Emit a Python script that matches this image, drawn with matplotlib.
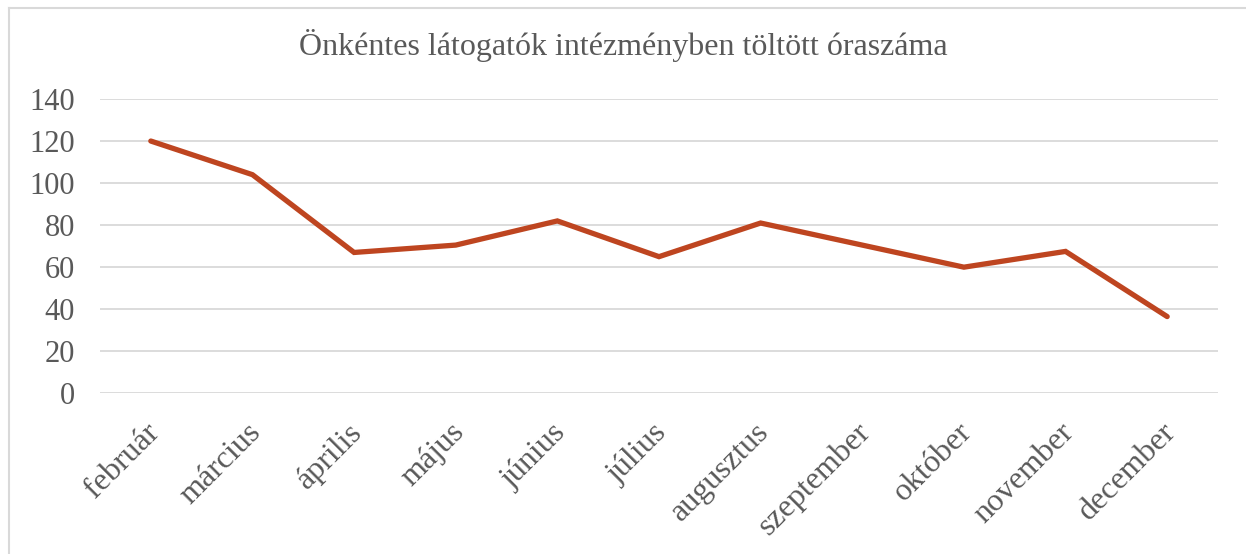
import matplotlib
matplotlib.use('Agg')
import matplotlib.pyplot as plt
from matplotlib.lines import Line2D
from matplotlib.transforms import ScaledTranslation

months = ['február', 'március', 'április', 'május', 'június', 'július',
          'augusztus', 'szeptember', 'október', 'november', 'december']
hours = [120, 104, 67, 70.5, 82, 65, 81, 70.5, 60, 67.5, 36.5]

plt.rcParams['font.family'] = ['Liberation Serif', 'DejaVu Serif']
text_color = '#595959'
grid_color = '#D9D9D9'

fig = plt.figure(figsize=(12.46, 5.54), dpi=100)
ax = fig.add_axes([100 / 1246, 1 - 393.3 / 554, 1118 / 1246, 294.3 / 554])

# chart frame: only left and top edges are visible in the crop
bx, by = 8.5 / 1246, 1 - 7.5 / 554
fig.add_artist(Line2D([bx, bx], [0, by], transform=fig.transFigure, color=grid_color, lw=1.5))
fig.add_artist(Line2D([bx, 1], [by, by], transform=fig.transFigure, color=grid_color, lw=1.5))

x = list(range(len(months)))
ax.plot(x, hours, color='#BE4520', lw=3.8, solid_capstyle='round', solid_joinstyle='miter')

ax.set_xlim(-0.5, len(months) - 0.5)
ax.set_ylim(0, 140)
ax.set_yticks(range(0, 141, 20))
ax.yaxis.grid(True, color=grid_color, lw=1.3)
ax.set_axisbelow(True)
for s in ax.spines.values():
    s.set_visible(False)
ax.tick_params(length=0)
ax.tick_params(axis='y', pad=18, labelsize=22, labelcolor=text_color)
ax.tick_params(axis='x', pad=25, labelsize=23, labelcolor=text_color)
ax.set_xticks(x)
ax.set_xticklabels(months, rotation=45, ha='right', va='center', rotation_mode='anchor')
shift = ScaledTranslation(4 / 100, 0, fig.dpi_scale_trans)
for lbl in ax.get_xticklabels():
    lbl.set_transform(lbl.get_transform() + shift)

fig.text(0.5, 1 - 45 / 554, 'Önkéntes látogatók intézményben töltött óraszáma',
         ha='center', va='center', fontsize=23, color=text_color)

fig.savefig('out.png', dpi=100)
